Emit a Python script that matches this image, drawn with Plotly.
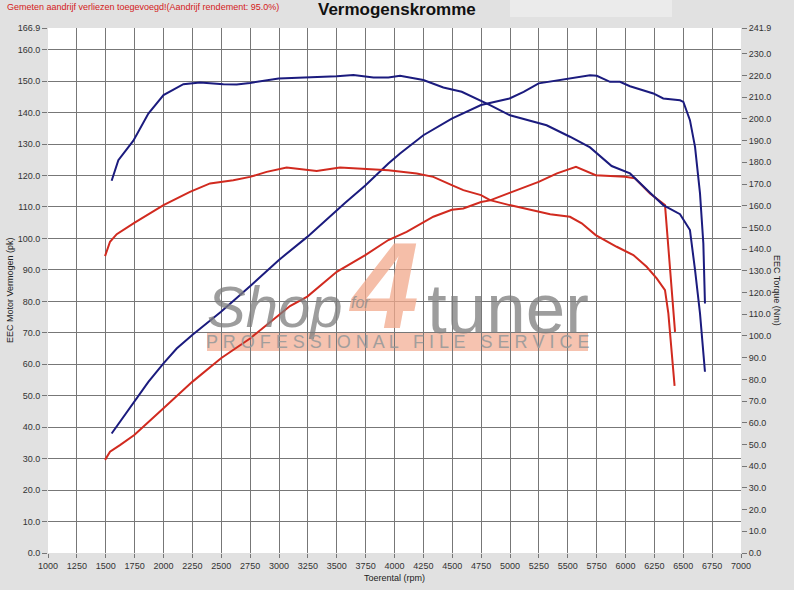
import plotly.graph_objects as go

# --- data ---
tuned_pk_rpm = [1551, 1623, 1739, 1869, 2000, 2114, 2249, 2498, 2749, 2997, 3245, 3413, 3571, 3747,
                3947, 4048, 4250, 4496, 4749, 4996, 5118, 5248, 5491, 5693, 5751, 5866, 5952, 6039,
                6241, 6327, 6472, 6501, 6558, 6602, 6645, 6674, 6688]
tuned_pk = [38.0, 41.7, 47.6, 54.4, 60.3, 65.0, 69.3, 76.7, 84.8, 93.1, 100.5, 106.1, 111.3, 116.8,
            123.8, 127.0, 132.8, 138.1, 142.4, 144.5, 146.6, 149.3, 150.8, 151.9, 151.7, 149.8, 149.8,
            148.4, 146.1, 144.5, 143.9, 143.4, 137.6, 129.1, 114.3, 98.4, 79.3]

tuned_nm_rpm = [1551, 1609, 1739, 1869, 2000, 2172, 2316, 2518, 2634, 2749, 2997, 3182, 3500, 3644,
                3818, 3947, 4048, 4250, 4423, 4582, 4740, 4827, 5000, 5202, 5317, 5519, 5693, 5880,
                6039, 6212, 6327, 6472, 6558, 6602, 6645, 6688]
tuned_nm = [171.5, 181.0, 190.0, 202.5, 211.0, 216.0, 216.8, 216.0, 215.9, 216.6, 218.6, 218.9, 219.7,
            220.2, 219.1, 219.1, 219.9, 217.9, 214.5, 212.5, 208.7, 206.4, 201.7, 198.7, 197.1, 191.8,
            186.9, 178.3, 174.9, 166.0, 160.3, 156.1, 148.8, 130.4, 110.4, 83.5]

stock_pk_rpm = [1494, 1537, 1623, 1747, 2000, 2249, 2498, 2749, 2997, 3095, 3245, 3500, 3747, 3947,
                4105, 4336, 4496, 4596, 4749, 4827, 4996, 5248, 5407, 5571, 5742, 5866, 5996, 6082,
                6212, 6342, 6371, 6400, 6429]
stock_pk = [29.6, 32.2, 34.3, 37.5, 46.0, 54.4, 61.9, 68.2, 75.6, 78.5, 81.5, 89.4, 94.7, 99.5,
            102.1, 106.9, 109.1, 109.5, 111.6, 112.1, 114.5, 118.0, 120.7, 122.8, 120.1, 119.9, 119.6,
            119.1, 114.3, 110.6, 97.3, 84.0, 70.3]

stock_nm_rpm = [1494, 1537, 1595, 1747, 2000, 2229, 2403, 2604, 2749, 2893, 3066, 3210, 3326, 3528,
                3673, 3947, 4192, 4336, 4496, 4596, 4749, 4827, 4996, 5175, 5348, 5519, 5621, 5742,
                5924, 6068, 6183, 6270, 6342, 6371, 6425]
stock_nm = [136.8, 143.4, 146.9, 152.1, 160.3, 166.4, 170.3, 171.8, 173.3, 175.6, 177.6, 176.7, 176.0,
            177.6, 177.2, 176.4, 174.9, 173.3, 169.5, 167.2, 164.9, 162.6, 160.3, 158.0, 156.1, 154.9,
            151.9, 146.5, 141.1, 137.3, 131.9, 126.5, 121.1, 110.4, 77.0]

pk_ticks = [0, 10, 20, 30, 40, 50, 60, 70, 80, 90, 100, 110, 120, 130, 140, 150, 160, 166.9]
nm_ticks = [0, 10, 20, 30, 40, 50, 60, 70, 80, 90, 100, 110, 120, 130, 140, 150, 160, 170, 180, 190,
            200, 210, 220, 230, 241.9]
rpm_ticks = list(range(1000, 7001, 250))

BLUE = "#1b1b7e"
RED = "#d12a1f"
FONT = "Arial, Liberation Sans, sans-serif"

# plot area in pixels (for placing decorations)
L, R, T, B = 48, 741, 28, 553


def px(xp):
    return (xp - L) / (R - L)


def py(yp):
    return (B - yp) / (B - T)


fig = go.Figure()
fig.add_trace(go.Scatter(x=tuned_pk_rpm, y=tuned_pk, mode="lines", line=dict(color=BLUE, width=2)))
fig.add_trace(go.Scatter(x=tuned_nm_rpm, y=tuned_nm, mode="lines", line=dict(color=BLUE, width=2),
                         yaxis="y2"))
fig.add_trace(go.Scatter(x=stock_pk_rpm, y=stock_pk, mode="lines", line=dict(color=RED, width=2)))
fig.add_trace(go.Scatter(x=stock_nm_rpm, y=stock_nm, mode="lines", line=dict(color=RED, width=2),
                         yaxis="y2"))

tickfont = dict(family=FONT, size=9, color="#333333")
fig.update_layout(
    width=794, height=590,
    margin=dict(l=L, r=794 - R, t=T, b=590 - B),
    paper_bgcolor="#e1e1e1", plot_bgcolor="white",
    showlegend=False,
    font=dict(family=FONT),
    xaxis=dict(range=[1000, 7000], tickvals=rpm_ticks, ticktext=[str(v) for v in rpm_ticks],
               showgrid=True, gridcolor="#777777", gridwidth=1, zeroline=False,
               ticks="outside", ticklen=4, tickcolor="#777777", tickfont=tickfont, showline=False),
    yaxis=dict(range=[0, 166.9], tickvals=pk_ticks, ticktext=[f"{v:.1f}" for v in pk_ticks],
               showgrid=True, gridcolor="#777777", gridwidth=1, zeroline=False,
               ticks="outside", ticklen=5, tickcolor="#777777", tickfont=tickfont, showline=False),
    yaxis2=dict(range=[0, 241.9], tickvals=nm_ticks, ticktext=[f"{v:.1f}" for v in nm_ticks],
                overlaying="y", side="right", showgrid=False, zeroline=False,
                ticks="outside", ticklen=5, tickcolor="#777777", tickfont=tickfont, showline=False),
)

# light panel in the header
fig.add_shape(type="rect", xref="paper", yref="paper", x0=px(510), x1=px(672), y0=py(17), y1=py(0),
              fillcolor="#ebebeb", line_width=0, layer="below")
# watermark band
fig.add_shape(type="rect", xref="paper", yref="paper", x0=px(207), x1=px(588), y0=py(351), y1=py(333),
              fillcolor="#f4b49c", opacity=0.8, line_width=0, layer="below")

ann = []
ann.append(dict(text="Gemeten aandrijf verliezen toegevoegd!(Aandrijf rendement: 95.0%)",
                x=px(5), y=py(7), xanchor="left", yanchor="middle",
                font=dict(family=FONT, size=9, color="#d42020")))
ann.append(dict(text="<b>Vermogenskromme</b>", x=px(397), y=py(9), xanchor="center", yanchor="middle",
                font=dict(family=FONT, size=17, color="#111111")))
ann.append(dict(text="EEC Motor Vermogen (pk)", x=px(10), y=py(290), textangle=-90,
                xanchor="center", yanchor="middle", font=dict(family=FONT, size=9, color="#222222")))
ann.append(dict(text="EEC Torque (Nm)", x=px(777), y=py(290), textangle=90,
                xanchor="center", yanchor="middle", font=dict(family=FONT, size=9, color="#222222")))
ann.append(dict(text="Toerental (rpm)", x=px(395), y=py(578), xanchor="center", yanchor="middle",
                font=dict(family=FONT, size=9, color="#222222")))

# watermark text
ann.append(dict(text="<b><i>4</i></b>", x=px(383), y=py(286), xanchor="center", yanchor="middle",
                font=dict(family=FONT, size=122, color="#f2a98c"), opacity=0.75))
ann.append(dict(text="<i>Shop</i>", x=px(205), y=py(307), xanchor="left", yanchor="middle",
                font=dict(family=FONT, size=58, color="#7d7d7d"), opacity=0.75))
ann.append(dict(text="<i>for</i>", x=px(360), y=py(302), xanchor="center", yanchor="middle",
                font=dict(family=FONT, size=16, color="#8a8a8a"), opacity=0.75))
ann.append(dict(text="tuner", x=px(508), y=py(308), xanchor="center", yanchor="middle",
                font=dict(family=FONT, size=71, color="#7d7d7d"), opacity=0.75))
ann.append(dict(text="P R O F E S S I O N A L   F I L E   S E R V I C E", x=px(397), y=py(342),
                xanchor="center", yanchor="middle",
                font=dict(family=FONT, size=18, color="#9a9a9a"), opacity=0.9))

for a in ann:
    a.update(xref="paper", yref="paper", showarrow=False)
    fig.add_annotation(**a)

fig.write_html("out.html", config={"displayModeBar": False},
               post_script="document.body.style.margin='0px';")
